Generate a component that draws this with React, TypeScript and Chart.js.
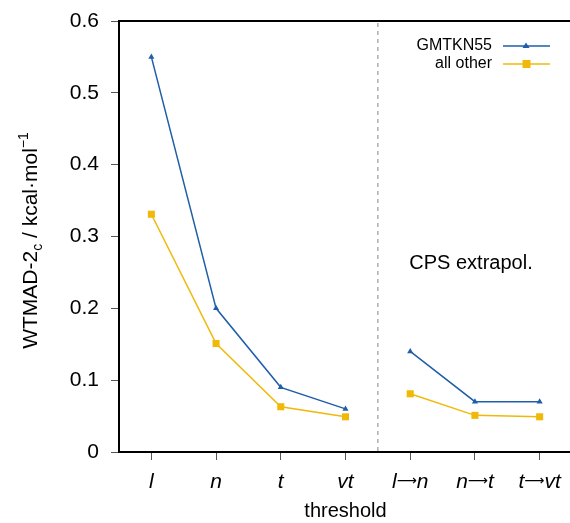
import React, { useEffect, useRef } from "react";
import { Chart, registerables } from "chart.js";

Chart.register(...registerables);

const categories = ["l", "n", "t", "vt", "l→n", "n→t", "t→vt"];
const gmtkn55 = [0.55, 0.2, 0.09, 0.06, 0.14, 0.07, 0.07];
const allOther = [0.331, 0.151, 0.063, 0.049, 0.081, 0.051, 0.049];
const breakAfterIndex = 3;
const yMin = 0;
const yMax = 0.6;
const yStep = 0.1;
const seriesNames = ["GMTKN55", "all other"];
const BLUE = "#1f5ea8";
const YELLOW = "#f0b90a";
const FONT = "'Liberation Sans', Arial, Helvetica, 'DejaVu Sans', sans-serif";
const ARROW_FONT = "'DejaVu Sans', sans-serif";

const extrasPlugin = {
  id: "extras",
  afterDraw(chart: any) {
    const ctx = chart.ctx as CanvasRenderingContext2D;
    const area = chart.chartArea;
    const xs = chart.scales.x;
    ctx.save();
    // top border
    ctx.strokeStyle = "#000";
    ctx.lineWidth = 2;
    ctx.beginPath();
    ctx.moveTo(area.left - 1, area.top);
    ctx.lineTo(area.right + 2, area.top);
    ctx.stroke();
    // dashed separator
    const sx = (xs.getPixelForValue(breakAfterIndex) + xs.getPixelForValue(breakAfterIndex + 1)) / 2;
    ctx.strokeStyle = "#9a9a9a";
    ctx.lineWidth = 1.2;
    ctx.setLineDash([4, 4]);
    ctx.beginPath();
    ctx.moveTo(sx, area.top + 2);
    ctx.lineTo(sx, area.bottom - 1);
    ctx.stroke();
    ctx.setLineDash([]);
    // x tick labels (italic letters, long upright arrow)
    ctx.fillStyle = "#000";
    ctx.textBaseline = "alphabetic";
    ctx.textAlign = "left";
    const italic = `italic 21px ${FONT}`;
    const arrowFont = `14px ${ARROW_FONT}`;
    categories.forEach((lab, i) => {
      const cx = xs.getPixelForValue(i);
      const pieces: { t: string; f: string; dy: number }[] = [];
      const segs = lab.split("→");
      segs.forEach((s, j) => {
        if (j > 0) pieces.push({ t: "⟶", f: arrowFont, dy: -3 });
        pieces.push({ t: s, f: italic, dy: 0 });
      });
      let w = 0;
      pieces.forEach((p) => {
        ctx.font = p.f;
        w += ctx.measureText(p.t).width;
      });
      let x = cx - w / 2;
      pieces.forEach((p) => {
        ctx.font = p.f;
        ctx.fillText(p.t, x, 488 + p.dy);
        x += ctx.measureText(p.t).width;
      });
    });
    // CPS text
    ctx.fillStyle = "#000";
    ctx.font = `20px ${FONT}`;
    ctx.textAlign = "center";
    ctx.textBaseline = "middle";
    ctx.fillText("CPS extrapol.", 471, 263);
    // legend
    ctx.font = `16px ${FONT}`;
    ctx.textAlign = "right";
    const rows = [
      { name: seriesNames[0], color: BLUE, y: 46, tri: true },
      { name: seriesNames[1], color: YELLOW, y: 64, tri: false },
    ];
    rows.forEach((r) => {
      ctx.fillStyle = "#000";
      ctx.fillText(r.name, 492, r.y);
      ctx.strokeStyle = r.color;
      ctx.lineWidth = 1.5;
      ctx.beginPath();
      ctx.moveTo(503, r.y);
      ctx.lineTo(550, r.y);
      ctx.stroke();
      ctx.fillStyle = r.color;
      if (r.tri) {
        ctx.beginPath();
        ctx.moveTo(526, r.y - 3.5);
        ctx.lineTo(529.5, r.y + 2);
        ctx.lineTo(522.5, r.y + 2);
        ctx.closePath();
        ctx.fill();
      } else {
        ctx.fillRect(522.5, r.y - 4, 8, 8);
      }
    });
    // y title with sub/superscript
    ctx.save();
    ctx.translate(37, (area.top + area.bottom) / 2 + 4);
    ctx.rotate(-Math.PI / 2);
    ctx.textAlign = "left";
    ctx.textBaseline = "alphabetic";
    ctx.fillStyle = "#000";
    const big = `21px ${FONT}`;
    const small = `14px ${FONT}`;
    const parts = [
      { t: "WTMAD-2", f: big, dy: 0 },
      { t: "c", f: small, dy: 5 },
      { t: " / kcal·mol", f: big, dy: 0 },
      { t: "−1", f: small, dy: -9 },
    ];
    let total = 0;
    parts.forEach((p) => {
      ctx.font = p.f;
      total += ctx.measureText(p.t).width;
    });
    let x = -total / 2;
    parts.forEach((p) => {
      ctx.font = p.f;
      ctx.fillText(p.t, x, p.dy);
      x += ctx.measureText(p.t).width;
    });
    ctx.restore();
    ctx.restore();
  },
};

const hideBreak = (c: any) => (c.p0DataIndex === breakAfterIndex ? "rgba(0,0,0,0)" : undefined);

export default function App() {
  const ref = useRef<HTMLCanvasElement>(null);
  useEffect(() => {
    if (!ref.current) return;
    const chart = new Chart(ref.current, {
      type: "line",
      data: {
        labels: categories,
        datasets: [
          {
            label: seriesNames[0],
            data: gmtkn55,
            borderColor: BLUE,
            backgroundColor: BLUE,
            borderWidth: 1.5,
            pointStyle: "triangle",
            pointRadius: 3.5,
            pointBorderWidth: 0,
            segment: { borderColor: hideBreak },
          },
          {
            label: seriesNames[1],
            data: allOther,
            borderColor: YELLOW,
            backgroundColor: YELLOW,
            borderWidth: 1.5,
            pointStyle: "rect",
            pointRadius: 5,
            pointBorderWidth: 0,
            segment: { borderColor: hideBreak },
          },
        ],
      },
      plugins: [extrasPlugin],
      options: {
        responsive: false,
        animation: false,
        layout: { padding: { left: 0, right: 28, top: 21, bottom: 0 } },
        plugins: { legend: { display: false }, tooltip: { enabled: false } },
        elements: { line: { tension: 0 } },
        scales: {
          x: {
            type: "category",
            offset: true,
            grid: {
              display: true,
              drawOnChartArea: false,
              drawTicks: true,
              tickLength: 8,
              tickColor: "#555",
              tickWidth: 1,
            },
            border: { display: true, color: "#000", width: 2 },
            ticks: {
              padding: 8,
              color: "rgba(0,0,0,0)",
              font: { family: FONT, size: 21, style: "italic" },
              maxRotation: 0,
              autoSkip: false,
            },
            title: {
              display: true,
              text: "threshold",
              color: "#000",
              font: { family: FONT, size: 20 },
              padding: { top: 2, bottom: 0 },
            },
            afterFit: (s: any) => {
              s.height = 71;
              s.paddingLeft = 0;
              s.paddingRight = 0;
            },
          },
          y: {
            min: yMin,
            max: yMax,
            grid: {
              display: true,
              drawOnChartArea: false,
              drawTicks: true,
              tickLength: 8,
              tickColor: "#555",
              tickWidth: 1,
            },
            border: { display: true, color: "#000", width: 2 },
            ticks: {
              stepSize: yStep,
              padding: 12,
              color: "#000",
              font: { family: FONT, size: 21 },
              callback: (v: any) => (Number(v) === 0 ? "0" : Number(v).toFixed(1)),
            },
            afterFit: (s: any) => {
              s.width = 119;
              s.paddingTop = 0;
              s.paddingBottom = 0;
            },
          },
        },
      },
    });
    return () => chart.destroy();
  }, []);
  return (
    <div
      style={{
        position: "absolute",
        left: 0,
        top: 0,
        width: 570,
        height: 523,
        overflow: "hidden",
        background: "#fff",
      }}
    >
      <canvas ref={ref} width={600} height={523} style={{ display: "block" }} />
    </div>
  );
}
